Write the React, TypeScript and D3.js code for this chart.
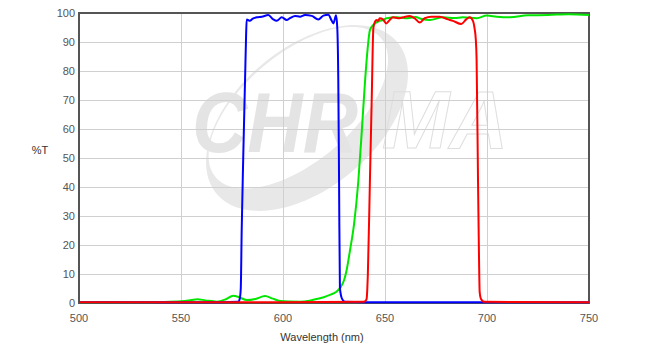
import React from "react";
import * as d3 from "d3";

const xTicks = [500, 550, 600, 650, 700, 750];
const yTicks = [0, 10, 20, 30, 40, 50, 60, 70, 80, 90, 100];

const blueSeries: [number, number][] = [
  [500, 0.3], [570, 0.3], [578, 0.4], [578.8, 1.5], [579.3, 5], [579.75, 25], [580.5, 50], [581.4, 77],
  [581.9, 92], [582.2, 97.8], [583.8, 97.3], [585, 98.0], [587.1, 98.5], [589.6, 98.7], [592.8, 99.3],
  [595.2, 97.8], [596.9, 97.3], [599.4, 98.5], [601.8, 97.6], [603.4, 98.2], [605.9, 99.0], [608.3, 98.7],
  [610.8, 99.3], [614.1, 99.0], [617.3, 97.8], [619.8, 99.1], [622.2, 99.4], [623.9, 97.3], [624.7, 96.4],
  [626.0, 99.2], [626.6, 95], [627.1, 77], [627.5, 40], [627.9, 5.2], [628.9, 1.5], [630.4, 0.4],
  [640, 0.3], [750, 0.3],
];

const greenSeries: [number, number][] = [
  [500, 0.2], [530, 0.25], [540, 0.35], [550, 0.6], [555, 1.0], [558, 1.3], [562, 0.9], [567.6, 0.45],
  [572, 1.3], [575.6, 2.5], [578.5, 2.0], [582.2, 1.0], [586.5, 1.4], [591.2, 2.4], [595, 1.5],
  [598.5, 0.7], [603, 0.5], [608.3, 0.45], [613, 0.8], [616.5, 1.4], [620, 2.0], [623, 2.8], [626, 3.8],
  [628, 5.2], [630, 8], [631.2, 11.4], [632.8, 18], [634.8, 27], [636.9, 41.8], [638.6, 59],
  [640.2, 76.3], [641.5, 87.8], [642.6, 94.1], [644.3, 95.9], [647, 97.2], [649.2, 97.6], [650.8, 98.2],
  [655.7, 98.5], [660, 98.2], [665, 98.6], [668, 97.9], [672, 97.6], [678.4, 98.5], [684, 98.3],
  [688.2, 98.5], [695, 98.2], [699.9, 99.1], [704.8, 98.7], [711.3, 98.5], [720, 99.2], [730, 99.3],
  [740, 99.6], [750, 99.3],
];

const redSeries: [number, number][] = [
  [500, 0.3], [600, 0.3], [639.4, 0.4], [640.5, 0.8], [641, 1.5], [641.6, 10], [642.6, 42], [643.5, 70.7],
  [644.3, 94.8], [645.1, 97.0], [645.9, 97.6], [646.6, 97.3], [647.4, 98.2], [649, 97.8], [650.6, 96.4],
  [652.3, 97.6], [653.9, 98.5], [656.4, 98.2], [658.8, 98.5], [662.1, 99.0], [664.5, 98.2], [667, 96.7],
  [669.5, 98.2], [672.7, 98.7], [676.8, 98.7], [680.9, 97.8], [683.3, 97.3], [687.4, 96.2], [689.8, 97.8],
  [691.5, 98.5], [693.1, 97.3], [693.9, 94.7], [694.5, 91], [694.9, 84], [695.6, 42], [696.1, 14.8],
  [696.4, 3.9], [697, 1.5], [698.7, 0.4], [750, 0.3],
];

const W = 652;
const H = 354;
const left = 79;
const right = 589;
const top = 13;
const bottom = 303;
const font = "'Liberation Sans', Arial, sans-serif";

function ellipsePath(cx: number, cy: number, a: number, b: number, rotDeg: number, n = 120) {
  const t = (rotDeg * Math.PI) / 180;
  const pts: string[] = [];
  for (let i = 0; i < n; i++) {
    const u = (i / n) * Math.PI * 2;
    const x = a * Math.cos(u);
    const y = b * Math.sin(u);
    pts.push(`${(cx + x * Math.cos(t) - y * Math.sin(t)).toFixed(2)},${(cy + x * Math.sin(t) + y * Math.cos(t)).toFixed(2)}`);
  }
  return "M" + pts.join("L") + "Z";
}

export default function App() {
  const x = d3.scaleLinear().domain([500, 750]).range([left, right]);
  const y = d3.scaleLinear().domain([0, 100]).range([bottom, top]);
  const line = d3
    .line<[number, number]>()
    .x((d) => x(d[0]))
    .y((d) => y(d[1]))
    .curve(d3.curveMonotoneX);

  const ring =
    ellipsePath(307, 118, 118, 70, -40) + " " + ellipsePath(298.3, 107.7, 108, 54, -40);

  return (
    <svg
      width={W}
      height={H}
      style={{ position: "absolute", left: 0, top: 0, background: "#fff" }}
      fontFamily={font}
    >
      <rect x={0} y={0} width={W} height={H} fill="#fff" />
      {/* watermark */}
      <g>
        <path d={ring} fill="#e8e8e8" fillRule="evenodd" />
        <text
          x={192}
          y={152}
          fontSize={86}
          fontWeight="bold"
          fontStyle="italic"
          fill="#e4e4e4"
          textLength={166}
          lengthAdjust="spacingAndGlyphs"
        >
          CHR
        </text>
        <text
          x={382}
          y={148}
          fontSize={82}
          fontWeight="bold"
          fontStyle="italic"
          fill="none"
          stroke="#dedede"
          strokeWidth={1}
          textLength={126}
          lengthAdjust="spacingAndGlyphs"
        >
          MA
        </text>
      </g>
      {/* grid */}
      <g stroke="#d0d0d0" strokeWidth={1}>
        {xTicks.slice(1, -1).map((t) => (
          <line key={"gx" + t} x1={Math.round(x(t)) + 0.5} x2={Math.round(x(t)) + 0.5} y1={top} y2={bottom} />
        ))}
        {yTicks.slice(1, -1).map((t) => (
          <line key={"gy" + t} x1={left} x2={right} y1={Math.round(y(t)) + 0.5} y2={Math.round(y(t)) + 0.5} />
        ))}
      </g>
      {/* frame */}
      <rect x={left} y={top} width={right - left} height={bottom - top} fill="none" stroke="#555" strokeWidth={2} />
      {/* curves */}
      <g fill="none" strokeWidth={2} strokeLinejoin="round">
        <path d={line(greenSeries) || ""} stroke="#00e600" />
        <path d={line(blueSeries) || ""} stroke="#0000ff" />
        <path d={line(redSeries) || ""} stroke="#ff0000" />
      </g>
      {/* tick labels */}
      <g fontSize={11} fill="#555">
        {yTicks.map((t) => (
          <text key={"ly" + t} x={75} y={y(t) + 4} textAnchor="end">
            {t}
          </text>
        ))}
        {xTicks.map((t) => (
          <text key={"lx" + t} x={x(t)} y={322} textAnchor="middle">
            {t}
          </text>
        ))}
      </g>
      <text x={40} y={154} fontSize={11} fill="#333" textAnchor="middle">
        %T
      </text>
      <text x={322} y={341} fontSize={11} fill="#333" textAnchor="middle">
        Wavelength (nm)
      </text>
    </svg>
  );
}
